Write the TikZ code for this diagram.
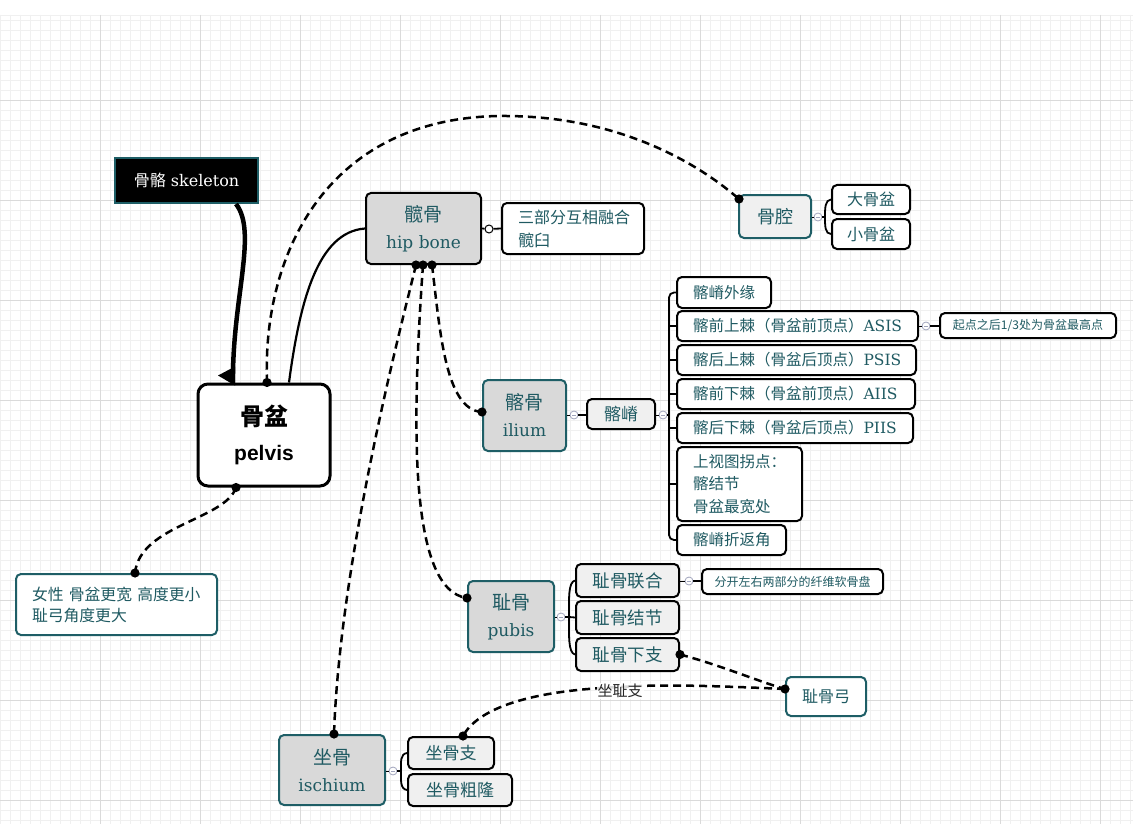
\documentclass[tikz,border=0pt]{standalone}
\usepackage{fontspec}
\setmainfont{DejaVu Serif}
\newfontfamily\cjk{Noto Sans CJK SC}
\newfontfamily\sansf{Liberation Sans}
\usetikzlibrary{arrows.meta}
\definecolor{tealc}{HTML}{1E5E66}
\definecolor{txt}{HTML}{1F5A62}
\definecolor{greyfill}{HTML}{D9D9D9}
\definecolor{lightfill}{HTML}{F0F0F0}
\definecolor{togc}{HTML}{A0A4BC}
\definecolor{gridminor}{HTML}{F0F0F0}
\definecolor{gridmajor}{HTML}{DADADA}
\newcommand\zh[1]{{\cjk #1}}
\begin{document}
\begin{tikzpicture}[x=1pt,y=-1pt,
 box/.style={rounded corners=5pt, line width=2pt, inner sep=0pt, align=center, text=txt},
 mainbox/.style={box, fill=greyfill, draw=tealc, font=\fontsize{17}{27}\selectfont},
 subbox/.style={box, draw=black, fill=lightfill, font=\fontsize{17}{20}\selectfont},
 leafbox/.style={box, draw=black, fill=white, align=left, inner xsep=16pt, inner ysep=0pt, font=\fontsize{15.5}{22.5}\selectfont},
 notebox/.style={box, draw=black, fill=white, font=\fontsize{12}{15}\selectfont},
 tog/.style={circle, draw=togc, fill=white, line width=0.8pt, minimum size=8pt, inner sep=0pt,
   path picture={\draw[togc,line width=0.8pt] ([xshift=-2pt]path picture bounding box.center) -- ([xshift=2pt]path picture bounding box.center);}},
 link/.style={line width=1.8pt, black},
 dlink/.style={line width=2.5pt, dash pattern=on 8pt off 5pt, black},
]
\useasboundingbox (0,0) rectangle (1133,824);
\fill[white] (0,0) rectangle (1133,824);
% grid
\foreach \x in {0,10,...,1130} \draw[gridminor, line width=0.7pt] (\x,15) -- (\x,824);
\foreach \y in {15,20,30,...,820} \draw[gridminor, line width=0.7pt] (0,\y) -- (1133,\y);
\foreach \x in {100,200,...,1100} \draw[gridmajor, line width=0.8pt] (\x,15) -- (\x,824);
\foreach \y in {100,200,...,800} \draw[gridmajor, line width=0.8pt] (0,\y) -- (1133,\y);

% ---------- nodes
\node[box, fill=black, draw=tealc, rounded corners=0pt, minimum width=143pt, minimum height=45pt, text=white, font=\fontsize{16}{20}\selectfont] (skel) at (186.5,180.5) {\zh{骨骼} skeleton};
\node[box, draw=black, fill=white, line width=3pt, rounded corners=10pt, minimum width=132pt, minimum height=102pt, text=black, font=\fontsize{22}{35}\selectfont] (pelvis) at (264,435) {{\cjk\bfseries\fontsize{24}{35}\selectfont 骨盆}\\{\sansf\bfseries\fontsize{21}{35}\selectfont pelvis}};

\node[mainbox, draw=black, minimum width=115pt, minimum height=71pt] (hip) at (423.5,228.5) {\zh{\fontsize{19}{27}\selectfont 髋骨}\\hip bone};
\node[leafbox, text width=110pt, minimum height=51pt, font=\fontsize{16}{23}\selectfont] (hipnote) at (573,228.5) {\zh{三部分互相融合}\\\zh{髋臼}};

\node[mainbox, fill=lightfill, minimum width=72pt, minimum height=43pt, font=\fontsize{18}{22}\selectfont] (cav) at (775,216.5) {\zh{骨腔}};
\node[subbox, fill=white, minimum width=78pt, minimum height=29pt, font=\fontsize{16}{20}\selectfont] (bigp) at (871,199.5) {\zh{大骨盆}};
\node[subbox, fill=white, minimum width=78pt, minimum height=30pt, font=\fontsize{16}{20}\selectfont] (smallp) at (871,234) {\zh{小骨盆}};

\node[mainbox, minimum width=83pt, minimum height=71pt] (ilium) at (524.5,415.5) {\zh{\fontsize{19}{27}\selectfont 髂骨}\\ilium};
\node[subbox, minimum width=68pt, minimum height=30pt] (crest) at (621,414) {\zh{髂嵴}};

\node[leafbox, text width=62pt, minimum height=31pt] (c1) at (724,292.5) {\zh{髂嵴外缘}};
\node[leafbox, text width=209pt, minimum height=30pt] (c2) at (797.5,326) {\zh{髂前上棘（骨盆前顶点）}ASIS};
\node[leafbox, text width=207pt, minimum height=30pt] (c3) at (796.5,360) {\zh{髂后上棘（骨盆后顶点）}PSIS};
\node[leafbox, text width=206pt, minimum height=30pt] (c4) at (796,394) {\zh{髂前下棘（骨盆前顶点）}AIIS};
\node[leafbox, text width=204pt, minimum height=30pt] (c5) at (795,428) {\zh{髂后下棘（骨盆后顶点）}PIIS};
\node[leafbox, text width=93pt, minimum height=74pt] (c6) at (739.5,484) {\zh{上视图拐点：}\\\zh{髂结节}\\\zh{骨盆最宽处}};
\node[leafbox, text width=77pt, minimum height=30pt] (c7) at (731.5,540) {\zh{髂嵴折返角}};
\node[notebox, minimum width=176pt, minimum height=25pt] (asisnote) at (1028,325.5) {\zh{起点之后1/3处为骨盆最高点}};

\node[mainbox, minimum width=86pt, minimum height=71pt] (pubis) at (511,616.5) {\zh{\fontsize{19}{27}\selectfont 耻骨}\\pubis};
\node[subbox, minimum width=103pt, minimum height=33pt, font=\fontsize{17.5}{20}\selectfont] (p1) at (627.5,580.5) {\zh{耻骨联合}};
\node[subbox, minimum width=103pt, minimum height=33pt, font=\fontsize{17.5}{20}\selectfont] (p2) at (627.5,617.5) {\zh{耻骨结节}};
\node[subbox, minimum width=103pt, minimum height=33pt, font=\fontsize{17.5}{20}\selectfont] (p3) at (627.5,654.5) {\zh{耻骨下支}};
\node[notebox, minimum width=181pt, minimum height=25pt] (p1note) at (792.5,581.5) {\zh{分开左右两部分的纤维软骨盘}};
\node[box, draw=tealc, fill=white, minimum width=80pt, minimum height=39pt, font=\fontsize{16}{20}\selectfont] (arch) at (826,696.5) {\zh{耻骨弓}};

\node[mainbox, minimum width=106pt, minimum height=70pt] (ischium) at (332,770) {\zh{\fontsize{19}{27}\selectfont 坐骨}\\ischium};
\node[subbox, minimum width=86pt, minimum height=32pt] (i1) at (451,753) {\zh{坐骨支}};
\node[subbox, minimum width=104pt, minimum height=32pt] (i2) at (460,790) {\zh{坐骨粗隆}};

\node[leafbox, draw=tealc, text width=169pt, minimum height=61pt, font=\fontsize{15.8}{21}\selectfont] (female) at (116.5,604.5) {\mbox{\zh{女性 骨盆更宽 高度更小}}\\\zh{耻弓角度更大}};

% ---------- connector anchors
\coordinate (skB) at ([xshift=49.5pt]skel.south);
\coordinate (pvA) at ([xshift=-31pt]pelvis.north);
\coordinate (pvH) at ([xshift=25pt]pelvis.north);
\coordinate (pv1) at ([xshift=3pt]pelvis.north);
\coordinate (cv1) at ([shift={(1,5)}]cav.north west);
\coordinate (pvB) at ([xshift=-28pt]pelvis.south);
\coordinate (fmT) at ([xshift=18.5pt]female.north);
\coordinate (hb1) at ([xshift=-7.5pt]hip.south);
\coordinate (hb2) at ([xshift=-0.5pt]hip.south);
\coordinate (hb3) at ([xshift=8.5pt]hip.south);
\coordinate (ilD) at ([shift={(0,-3.5)}]ilium.west);
\coordinate (puD) at ([shift={(0,-18.5)}]pubis.west);
\coordinate (isD) at ([shift={(2,0)}]ischium.north);
\coordinate (p3R) at (p3.east);
\coordinate (arL) at ([shift={(0,-7.5)}]arch.west);
\coordinate (i1T) at ([shift={(12,0)}]i1.north);

% skeleton -> pelvis
\draw[line width=4.5pt] (skB) .. controls (258,232) and (232,300) .. (pvA);
\fill ([shift={(-46,-7)}]pelvis.north) -- ([shift={(-29,-16)}]pelvis.north) -- ([shift={(-29,3)}]pelvis.north) -- cycle;

% pelvis -> hip bone
\draw[line width=2.2pt] (pvH) .. controls (300,300) and (318,232) .. (hip.west);

% dashed connectors
\draw[dlink] (pv1) .. controls (262,250) and (330,118) .. (500,116) .. controls (620,115) and (700,165) .. (cv1);
\draw[dlink] (pvB) .. controls (225,520) and (140,525) .. (fmT);
\draw[dlink] (hb3) .. controls (440,330) and (445,410) .. (ilD);
\draw[dlink] (hb2) .. controls (412,420) and (408,590) .. (puD);
\draw[dlink] (hb1) .. controls (400,330) and (340,560) .. (isD);
\draw[dlink] (p3R) .. controls (720,665) and (760,682) .. (arL);
\draw[dlink] (arL) .. controls (720,686) and (660,684) .. (621,687) .. controls (540,690) and (480,705) .. (i1T);
\node[fill=white, fill opacity=0.85, text opacity=1, inner sep=1pt, text=black!85, font=\fontsize{15}{15}\selectfont] (lbl) at (620,691) {\zh{坐耻支}};

\foreach \p in {pv1,cv1,pvB,fmT,hb1,hb2,hb3,ilD,puD,isD,p3R,arL,i1T}
  \fill (\p) circle (4.6pt);

% hip -> note
\node[circle, draw=black, fill=white, line width=1pt, minimum size=8pt, inner sep=0pt] (t0) at (489,229) {};
\draw[link] (hip.east) -- (t0);
\draw[link] (t0) -- (hipnote.west);

% ilium -> crest
\node[tog] (t1) at (574,415) {};
\draw[line width=0.8pt] (ilium.east |- t1) -- (t1);
\draw[link] (t1) -- (crest.west |- t1);

% crest -> children
\node[tog] (t2) at (663,415) {};
\draw[line width=0.8pt] (crest.east |- t2) -- (t2);
\coordinate (cb) at (669,415);
\draw[link] (t2) -- (cb);
\draw[link, rounded corners=5pt] (c1.west) -- (cb |- c1.west) -- (cb |- c7.west) -- (c7.west);
\foreach \c in {c2,c3,c4,c5,c6} \draw[link] (\c.west) -- (cb |- \c.west);

% ASIS -> note
\node[tog] (t3) at (926,326) {};
\draw[line width=0.8pt] (c2.east) -- (t3);
\draw[link] (t3) -- (asisnote.west |- t3);

% cavity -> children
\node[tog] (t4) at (818,217) {};
\draw[line width=0.8pt] (cav.east |- t4) -- (t4);
\coordinate (kb) at (825,217);
\draw[link] (t4) -- (kb);
\draw[link] (bigp.west) .. controls (825,200) and (825,208) .. (kb) .. controls (825,226) and (825,234) .. (smallp.west);

% pubis -> children
\node[tog] (t5) at (561,617) {};
\draw[line width=0.8pt] (pubis.east |- t5) -- (t5);
\coordinate (pb) at (569,617);
\draw[link] (t5) -- (pb);
\draw[link] (p1.west) .. controls (568,582) and (569,600) .. (pb) .. controls (569,634) and (568,653) .. (p3.west);
\draw[link] (p2.west) -- (pb);

% p1 -> note
\node[tog] (t6) at (689,581) {};
\draw[line width=0.8pt] (p1.east |- t6) -- (t6);
\draw[link] (t6) -- (p1note.west |- t6);

% ischium -> children
\node[tog] (t7) at (393,771) {};
\draw[line width=0.8pt] (ischium.east |- t7) -- (t7);
\coordinate (ib) at (401,771);
\draw[link] (t7) -- (ib);
\draw[link] (i1.west) .. controls (400,754) and (401,762) .. (ib) .. controls (401,780) and (400,789) .. (i2.west);
\end{tikzpicture}
\end{document}
